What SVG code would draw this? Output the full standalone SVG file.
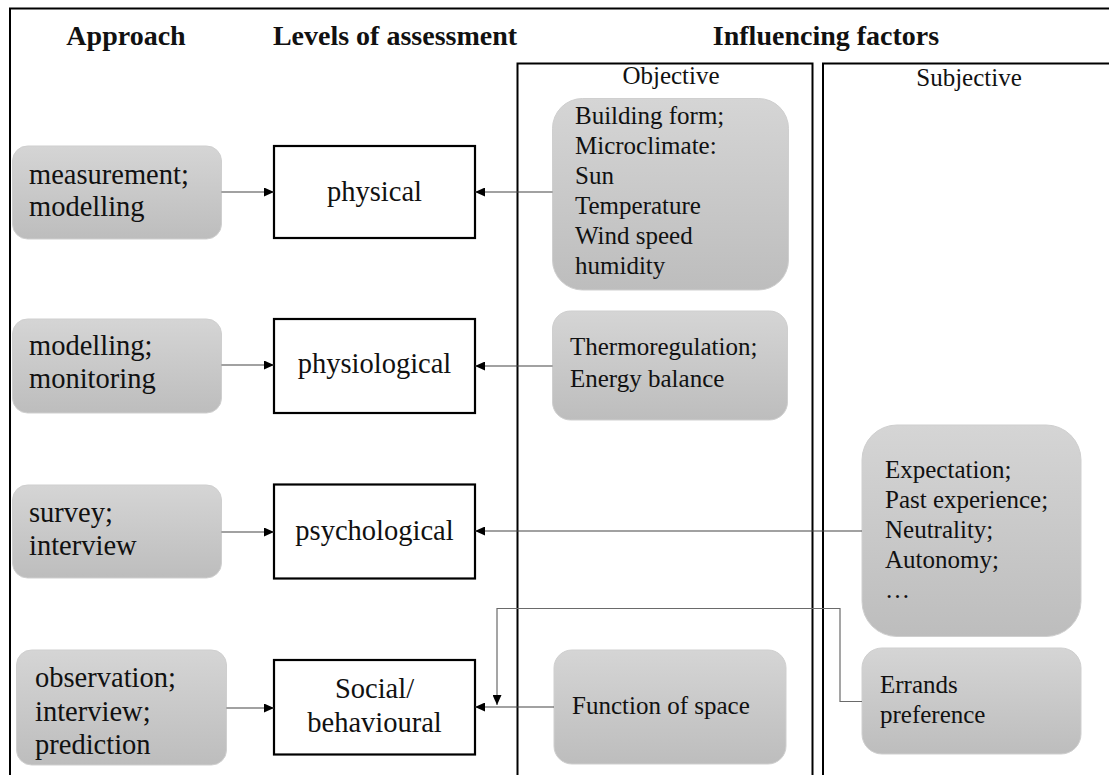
<svg xmlns="http://www.w3.org/2000/svg" width="1109" height="775" viewBox="0 0 1109 775" font-family="'Liberation Serif', 'Times New Roman', serif">
  <defs>
    <linearGradient id="grey" x1="0" y1="0" x2="0" y2="1">
      <stop offset="0" stop-color="#d5d5d5"/>
      <stop offset="1" stop-color="#bdbdbd"/>
    </linearGradient>
    <marker id="head" markerUnits="userSpaceOnUse" markerWidth="11" markerHeight="9" refX="10" refY="4.5" orient="auto">
      <path d="M0,0 L10,4.5 L0,9 Z" fill="#000"/>
    </marker>
    <style>
      text { font-family: 'Liberation Serif', 'Times New Roman', serif; fill: #111; }
      .hdr { font-size: 28px; font-weight: bold; text-anchor: middle; }
      .sub { font-size: 25px; text-anchor: middle; }
      .app { font-size: 28.5px; }
      .lvl { font-size: 28.5px; text-anchor: middle; }
      .inf { font-size: 25px; }
      .soft { fill: url(#grey); stroke: #cfcfcf; stroke-width: 1; }
      .level { fill: #fff; stroke: #000; stroke-width: 2.2; }
      .frame { fill: none; stroke: #000; stroke-width: 2; }
      .link { fill: none; stroke: #444; stroke-width: 1.2; marker-end: url(#head); }
      .link2 { fill: none; stroke: #6a6a6a; stroke-width: 1.2; marker-end: url(#head); }
    </style>
  </defs>

  <rect width="1109" height="775" fill="#fff"/>

  <!-- outer frame (top and left edges) -->
  <path class="frame" d="M10,775 V8.5 H1109"/>

  <!-- column headers -->
  <g id="headers">
    <text class="hdr" x="126" y="45">Approach</text>
    <text class="hdr" x="395" y="45">Levels of assessment</text>
    <text class="hdr" x="826" y="45">Influencing factors</text>
  </g>

  <!-- factor panels -->
  <g id="objective-panel">
    <path class="frame" d="M517.5,775 V63.5 H812.5 V775"/>
    <text class="sub" x="671" y="84">Objective</text>
  </g>
  <g id="subjective-panel">
    <path class="frame" d="M823,775 V63.5 H1109"/>
    <text class="sub" x="969" y="86">Subjective</text>
  </g>

  <!-- approach nodes -->
  <g id="approach-measurement">
    <rect class="soft" x="12.5" y="146" width="209" height="93" rx="15"/>
    <text class="app" x="29" y="184">measurement;</text>
    <text class="app" x="29" y="216">modelling</text>
  </g>
  <g id="approach-modelling">
    <rect class="soft" x="12.5" y="319" width="209" height="94" rx="15"/>
    <text class="app" x="29" y="355">modelling;</text>
    <text class="app" x="29" y="388">monitoring</text>
  </g>
  <g id="approach-survey">
    <rect class="soft" x="12.5" y="485" width="209" height="93" rx="15"/>
    <text class="app" x="29" y="522">survey;</text>
    <text class="app" x="29" y="555">interview</text>
  </g>
  <g id="approach-observation">
    <rect class="soft" x="16.5" y="650" width="210" height="115" rx="15"/>
    <text class="app" x="35" y="687">observation;</text>
    <text class="app" x="35" y="721">interview;</text>
    <text class="app" x="35" y="754">prediction</text>
  </g>

  <!-- assessment levels -->
  <g id="level-physical">
    <rect class="level" x="274" y="146" width="201" height="92"/>
    <text class="lvl" x="374.5" y="201">physical</text>
  </g>
  <g id="level-physiological">
    <rect class="level" x="274" y="319" width="201" height="94"/>
    <text class="lvl" x="374.5" y="373">physiological</text>
  </g>
  <g id="level-psychological">
    <rect class="level" x="274" y="484.5" width="201" height="94"/>
    <text class="lvl" x="374.5" y="540">psychological</text>
  </g>
  <g id="level-social">
    <rect class="level" x="274" y="660" width="201" height="94.5"/>
    <text class="lvl" x="374.5" y="698">Social/</text>
    <text class="lvl" x="374.5" y="732">behavioural</text>
  </g>

  <!-- objective factors -->
  <g id="factor-building">
    <rect class="soft" x="552.5" y="98.5" width="236" height="191.5" rx="30"/>
    <text class="inf" x="575" y="124">Building form;</text>
    <text class="inf" x="575" y="154">Microclimate:</text>
    <text class="inf" x="575" y="184">Sun</text>
    <text class="inf" x="575" y="214">Temperature</text>
    <text class="inf" x="575" y="244">Wind speed</text>
    <text class="inf" x="575" y="274">humidity</text>
  </g>
  <g id="factor-thermoregulation">
    <rect class="soft" x="552.5" y="311" width="235" height="109" rx="18"/>
    <text class="inf" x="570" y="355">Thermoregulation;</text>
    <text class="inf" x="570" y="387">Energy balance</text>
  </g>
  <g id="factor-function">
    <rect class="soft" x="554" y="650" width="232" height="114" rx="18"/>
    <text class="inf" x="572" y="714">Function of space</text>
  </g>

  <!-- subjective factors -->
  <g id="factor-expectation">
    <rect class="soft" x="862" y="425" width="219" height="211.5" rx="35"/>
    <text class="inf" x="885" y="478">Expectation;</text>
    <text class="inf" x="885" y="508">Past experience;</text>
    <text class="inf" x="885" y="538">Neutrality;</text>
    <text class="inf" x="885" y="568">Autonomy;</text>
    <text class="inf" x="885" y="598">…</text>
  </g>
  <g id="factor-errands">
    <rect class="soft" x="862" y="648" width="219" height="106" rx="20"/>
    <text class="inf" x="880" y="693">Errands</text>
    <text class="inf" x="880" y="723">preference</text>
  </g>

  <!-- connectors -->
  <g id="connectors">
    <path class="link" d="M221.5,192 H274"/>
    <path class="link" d="M221.5,365 H274"/>
    <path class="link" d="M221.5,532 H274"/>
    <path class="link" d="M226.5,708 H274"/>
    <path class="link" d="M552.5,192 H475"/>
    <path class="link" d="M552.5,366 H475"/>
    <path class="link" d="M862,531 H475"/>
    <path class="link" d="M554,707 H475"/>
    <path class="link2" d="M862,701.5 H840 V608.5 H497 V705"/>
  </g>
</svg>
